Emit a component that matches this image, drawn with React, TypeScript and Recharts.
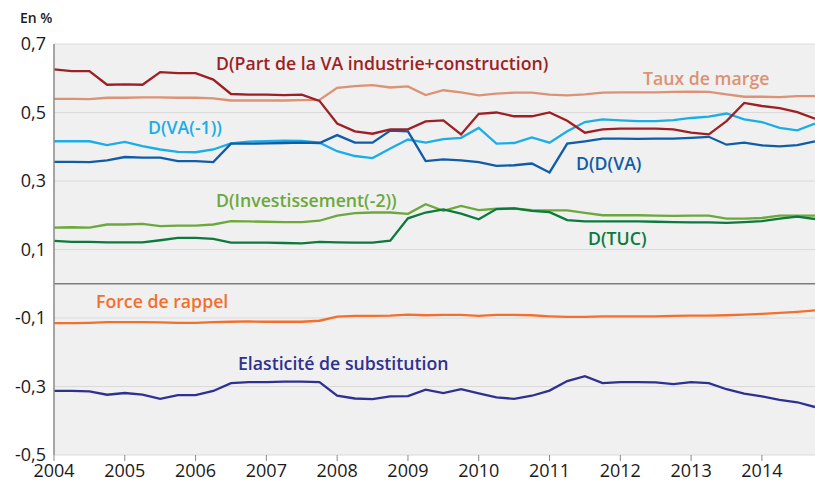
import * as React from 'react'
import { CartesianGrid, Line, LineChart, ReferenceLine, XAxis, YAxis } from 'recharts'

// quarterly points, 2004T1 .. 2014T4
const quarters = [
  2004, 2004.25, 2004.5, 2004.75, 2005, 2005.25, 2005.5, 2005.75, 2006, 2006.25, 2006.5,
  2006.75, 2007, 2007.25, 2007.5, 2007.75, 2008, 2008.25, 2008.5, 2008.75, 2009, 2009.25,
  2009.5, 2009.75, 2010, 2010.25, 2010.5, 2010.75, 2011, 2011.25, 2011.5, 2011.75, 2012,
  2012.25, 2012.5, 2012.75, 2013, 2013.25, 2013.5, 2013.75, 2014, 2014.25, 2014.5, 2014.75,
]

const yearTicks = [2004, 2005, 2006, 2007, 2008, 2009, 2010, 2011, 2012, 2013, 2014]
const valueTicks = [-0.5, -0.3, -0.1, 0.1, 0.3, 0.5, 0.7]

const partVA = [
  0.626, 0.621, 0.621, 0.581, 0.582, 0.581, 0.618, 0.615, 0.615, 0.596, 0.554, 0.552, 0.552,
  0.551, 0.552, 0.534, 0.468, 0.445, 0.438, 0.451, 0.451, 0.474, 0.477, 0.436, 0.496, 0.5,
  0.489, 0.489, 0.5, 0.476, 0.441, 0.451, 0.453, 0.453, 0.453, 0.451, 0.441, 0.436, 0.475,
  0.528, 0.519, 0.513, 0.501, 0.482,
]
const tauxMarge = [
  0.54, 0.54, 0.539, 0.543, 0.543, 0.544, 0.544, 0.543, 0.543, 0.541, 0.535, 0.535, 0.535,
  0.535, 0.536, 0.537, 0.572, 0.577, 0.58, 0.573, 0.576, 0.551, 0.565, 0.559, 0.55, 0.555,
  0.558, 0.558, 0.552, 0.55, 0.553, 0.558, 0.559, 0.559, 0.559, 0.56, 0.561, 0.56, 0.553,
  0.546, 0.546, 0.545, 0.548, 0.548,
]
const vaLag = [
  0.416, 0.416, 0.416, 0.405, 0.414, 0.402, 0.392, 0.385, 0.384, 0.392, 0.41, 0.415, 0.416,
  0.418, 0.417, 0.412, 0.387, 0.373, 0.367, 0.395, 0.421, 0.412, 0.422, 0.426, 0.455, 0.409,
  0.411, 0.427, 0.412, 0.445, 0.472, 0.48, 0.477, 0.475, 0.475, 0.478, 0.484, 0.488, 0.497,
  0.48, 0.472, 0.455, 0.448, 0.468,
]
const ddVA = [
  0.356, 0.356, 0.355, 0.36, 0.37, 0.368, 0.368, 0.358, 0.358, 0.355, 0.409, 0.409, 0.41,
  0.411, 0.412, 0.411, 0.434, 0.412, 0.412, 0.447, 0.445, 0.358, 0.363, 0.36, 0.355, 0.344,
  0.346, 0.351, 0.325, 0.409, 0.416, 0.424, 0.424, 0.423, 0.424, 0.424, 0.426, 0.429, 0.406,
  0.412, 0.404, 0.401, 0.405, 0.416,
]
const invest = [
  0.164, 0.165, 0.164, 0.173, 0.173, 0.175, 0.168, 0.17, 0.17, 0.173, 0.183, 0.182, 0.181,
  0.18, 0.18, 0.184, 0.199, 0.206, 0.208, 0.208, 0.204, 0.232, 0.213, 0.227, 0.215, 0.219,
  0.22, 0.215, 0.214, 0.214, 0.207, 0.2, 0.2, 0.2, 0.199, 0.198, 0.199, 0.199, 0.19, 0.19,
  0.192, 0.199, 0.199, 0.199,
]
const tuc = [
  0.125, 0.122, 0.122, 0.121, 0.121, 0.121, 0.127, 0.134, 0.134, 0.131, 0.12, 0.12, 0.12,
  0.119, 0.118, 0.122, 0.121, 0.12, 0.12, 0.126, 0.191, 0.208, 0.217, 0.205, 0.188, 0.218,
  0.22, 0.213, 0.209, 0.186, 0.182, 0.182, 0.182, 0.182, 0.181, 0.18, 0.179, 0.179, 0.178,
  0.18, 0.183, 0.19, 0.196, 0.189,
]
const rappel = [
  -0.115, -0.115, -0.114, -0.112, -0.112, -0.112, -0.113, -0.114, -0.114, -0.112, -0.111,
  -0.11, -0.111, -0.111, -0.111, -0.108, -0.096, -0.094, -0.094, -0.093, -0.09, -0.092,
  -0.091, -0.091, -0.094, -0.091, -0.091, -0.092, -0.095, -0.097, -0.097, -0.095, -0.095,
  -0.095, -0.095, -0.094, -0.093, -0.093, -0.092, -0.09, -0.088, -0.085, -0.082, -0.078,
]
const elasticite = [
  -0.313, -0.313, -0.314, -0.324, -0.319, -0.324, -0.336, -0.325, -0.325, -0.313, -0.29,
  -0.287, -0.287, -0.286, -0.286, -0.287, -0.327, -0.335, -0.337, -0.329, -0.328, -0.309,
  -0.319, -0.308, -0.32, -0.332, -0.336, -0.327, -0.312, -0.284, -0.27, -0.29, -0.287,
  -0.287, -0.288, -0.293, -0.287, -0.29, -0.308, -0.321, -0.329, -0.339, -0.346, -0.36,
]

const SERIES = [
  { key: 'tauxMarge', values: tauxMarge, color: '#DC9274', label: 'Taux de marge', left: 643, top: 67 },
  { key: 'invest', values: invest, color: '#6CA83C', label: 'D(Investissement(-2))', left: 216, top: 189 },
  { key: 'tuc', values: tuc, color: '#0C7A3C', label: 'D(TUC)', left: 588, top: 227 },
  { key: 'vaLag', values: vaLag, color: '#19AEEA', label: 'D(VA(-1))', left: 148, top: 116 },
  { key: 'ddVA', values: ddVA, color: '#0F5CA8', label: 'D(D(VA)', left: 576, top: 152 },
  { key: 'partVA', values: partVA, color: '#9E1F24', label: 'D(Part de la VA industrie+construction)', left: 216, top: 52 },
  { key: 'rappel', values: rappel, color: '#F36F2B', label: 'Force de rappel', left: 96, top: 290 },
  { key: 'elasticite', values: elasticite, color: '#2F3192', label: 'Elasticité de substitution', left: 238, top: 352 },
]

const data = quarters.map((t, i) => {
  const row: Record<string, number> = { t }
  SERIES.forEach((s) => {
    row[s.key] = s.values[i]
  })
  return row
})

const fmt = (v: number) => v.toFixed(1).replace('.', ',')

export default function App() {
  return (
    <div
      style={{
        position: 'absolute',
        left: 0,
        top: 0,
        width: 815,
        height: 481,
        background: '#fff',
        fontFamily: '"Open Sans", sans-serif',
        overflow: 'hidden',
      }}
    >
      <LineChart width={815} height={481} data={data} margin={{ top: 44, right: 0, left: 0, bottom: 0 }}>
        <CartesianGrid vertical={false} stroke="#dadada" fill="#f0f0f0" />
        <XAxis
          dataKey="t"
          type="number"
          domain={[2004, 2014.75]}
          ticks={yearTicks}
          allowDataOverflow
          height={26}
          axisLine={false}
          tickLine={{ stroke: '#8a8a8a' }}
          tickSize={6}
          tickMargin={3}
          tick={{ fill: '#1a1a1a', fontSize: 18 }}
        />
        <YAxis
          type="number"
          domain={[-0.5, 0.7]}
          ticks={valueTicks}
          width={54}
          tickLine={false}
          axisLine={{ stroke: '#8a8a8a', strokeWidth: 1.5 }}
          tickFormatter={fmt}
          tick={{ fill: '#1a1a1a', fontSize: 18 }}
        />
        <ReferenceLine y={0} stroke="#7d7d7d" strokeWidth={1.5} />
        {SERIES.map((s) => (
          <Line
            key={s.key}
            type="linear"
            dataKey={s.key}
            stroke={s.color}
            strokeWidth={2.3}
            dot={false}
            isAnimationActive={false}
          />
        ))}
      </LineChart>
      <div style={{ position: 'absolute', left: 20, top: 8, fontSize: 14, fontWeight: 600, color: '#1a1a1a' }}>
        En %
      </div>
      {SERIES.map((s) => (
        <div
          key={s.key + '-label'}
          style={{
            position: 'absolute',
            left: s.left,
            top: s.top,
            fontSize: 17.7,
            lineHeight: '22px',
            fontWeight: 600,
            color: s.color,
            whiteSpace: 'nowrap',
          }}
        >
          {s.label}
        </div>
      ))}
    </div>
  )
}
